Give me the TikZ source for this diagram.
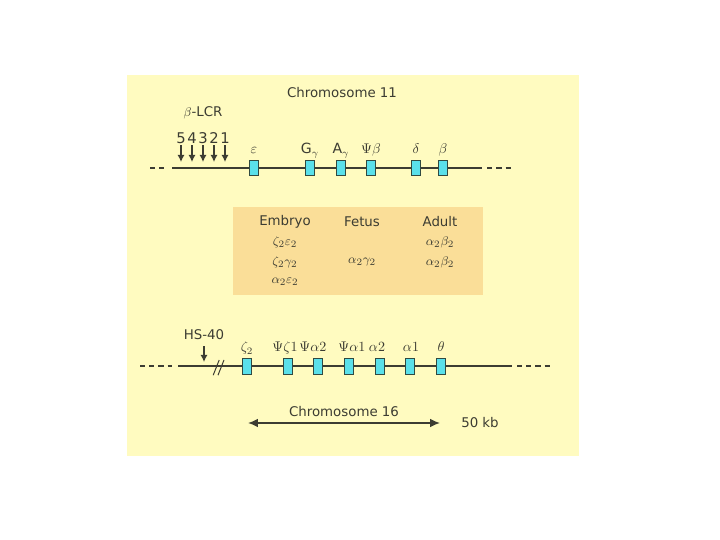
\documentclass[tikz,border=0pt]{standalone}
\usepackage{fontspec}
\setmainfont{DejaVu Sans}
\usetikzlibrary{arrows.meta}
\definecolor{panel}{RGB}{255,251,192}
\definecolor{stage}{RGB}{250,222,152}
\definecolor{genecol}{RGB}{90,224,234}
\definecolor{linecol}{RGB}{60,60,50}

\begin{document}
\begin{tikzpicture}[
        every node/.style={font=\fontsize{9.5}{11}\selectfont, text=linecol},
        genebox/.style={draw=linecol!80!teal, fill=genecol, line width=0.6pt, minimum width=0.22cm, minimum height=0.38cm, inner sep=0pt},
        genelab/.style={anchor=base, inner sep=0pt, font=\fontsize{10}{12}\selectfont},
        chrline/.style={draw=linecol, line width=0.9pt},
        dashline/.style={draw=linecol, line width=0.9pt, dash pattern=on 0.13cm off 0.1cm}
    ]

        \useasboundingbox (0cm,0cm) rectangle (18cm,13.5cm);  %Bildformat 720x540
        \fill[panel] (3.18cm,2.1cm) rectangle (14.48cm,11.63cm);  %Hintergrund

        \node (chr11) at (8.55cm,11.175cm) {Chromosome 11};  %Titel oben

        \coordinate (c11a) at (3.75cm,9.3cm);  %linkes Ende, gestrichelt
        \coordinate (c11b) at (4.3cm,9.3cm);
        \coordinate (c11c) at (12.05cm,9.3cm);
        \coordinate (c11d) at (12.78cm,9.3cm);  %rechtes Ende, gestrichelt
        \draw[dashline] (c11a) -- (4.2cm,9.3cm);
        \draw[chrline] (c11b) -- (c11c);
        \draw[dashline] (12.18cm,9.3cm) -- (c11d);

        \node (lcr) at (5.075cm,10.675cm) {$\beta$-LCR};
        \foreach \n [count=\i] in {5,4,3,2,1}  %hypersensitive Stellen
            {
                \node[inner sep=0pt, font=\fontsize{10.5}{12}\selectfont] (hs\n) at (4.25cm+\i*0.275cm,10.05cm) {\n};
                \coordinate (hs\n tip) at (4.25cm+\i*0.275cm,9.45cm);
                \draw[linecol, line width=0.9pt, -{Latex[length=5pt,width=5pt]}, shorten <=1pt] (hs\n) -- (hs\n tip);
            };

        \foreach \x/\name/\lab in {
                6.35/eps/$\varepsilon$,
                7.75/ggam/G$_\gamma$,
                8.525/agam/A$_\gamma$,
                9.275/psib/$\Psi\beta$,
                10.4/delta/$\delta$,
                11.075/beta/$\beta$
            }
            {
                \node[genebox] (\name) at (\x cm,9.3cm) {};  %die Gene
                \node[genelab] (\name lab) at (\x cm,9.65cm) {\lab};  %Genbeschriftung
            };

        \node[fill=stage, minimum width=6.25cm, minimum height=2.2cm] (stages) at (8.95cm,7.225cm) {};  %Kasten Entwicklungsstufen
        \node (embryo) at (7.125cm,7.95cm) {Embryo};
        \node (fetus) at (9.05cm,7.95cm) {Fetus};
        \node (adult) at (11.0cm,7.95cm) {Adult};
        \node (emb1) at (7.125cm,7.45cm) {$\zeta_2\varepsilon_2$};
        \node (emb2) at (7.125cm,6.95cm) {$\zeta_2\gamma_2$};
        \node (emb3) at (7.125cm,6.45cm) {$\alpha_2\varepsilon_2$};
        \node (fet1) at (9.05cm,6.95cm) {$\alpha_2\gamma_2$};
        \node (adu1) at (11.0cm,7.45cm) {$\alpha_2\beta_2$};
        \node (adu2) at (11.0cm,6.95cm) {$\alpha_2\beta_2$};

        \coordinate (c16a) at (3.5cm,4.35cm);  %linkes Ende, gestrichelt
        \coordinate (c16b) at (4.45cm,4.35cm);
        \coordinate (c16c) at (12.8cm,4.35cm);
        \coordinate (c16d) at (13.8cm,4.35cm);  %rechtes Ende, gestrichelt
        \draw[dashline] (c16a) -- (4.3cm,4.35cm);
        \draw[chrline] (c16b) -- (c16c);
        \draw[dashline] (12.925cm,4.35cm) -- (c16d);
        \draw[linecol, line width=0.7pt] (5.33cm,4.12cm) -- (5.48cm,4.5cm);  %Unterbrechung
        \draw[linecol, line width=0.7pt] (5.45cm,4.12cm) -- (5.6cm,4.5cm);

        \node (hs40) at (5.1cm,5.125cm) {HS-40};
        \coordinate (hs40tip) at (5.1cm,4.45cm);
        \draw[linecol, line width=0.9pt, -{Latex[length=5pt,width=5pt]}, shorten <=1pt] (hs40) -- (hs40tip);

        \foreach \x/\lx/\name/\lab in {
                6.175/6.175/zeta/$\zeta_2$,
                7.2/7.125/psiz/$\Psi\zeta1$,
                7.95/7.825/psiatwo/$\Psi\alpha2$,
                8.725/8.8/psiaone/$\Psi\alpha1$,
                9.5/9.425/atwo/$\alpha2$,
                10.25/10.275/aone/$\alpha1$,
                11.025/11.025/theta/$\theta$
            }
            {
                \node[genebox, minimum height=0.4cm] (\name) at (\x cm,4.35cm) {};  %die Gene
                \node[genelab] (\name lab) at (\lx cm,4.7cm) {\lab};  %Genbeschriftung
            };

        \coordinate (s16a) at (6.2cm,2.925cm);
        \coordinate (s16b) at (11.0cm,2.925cm);
        \draw[linecol, line width=0.9pt, {Latex[length=7pt,width=6pt]}-{Latex[length=7pt,width=6pt]}] (s16a) -- (s16b);  %Massstab
        \node (chr16) at (8.6cm,3.2cm) {Chromosome 16};
        \node (kb) at (12.0cm,2.925cm) {50 kb};

    \end{tikzpicture}
\end{document}
